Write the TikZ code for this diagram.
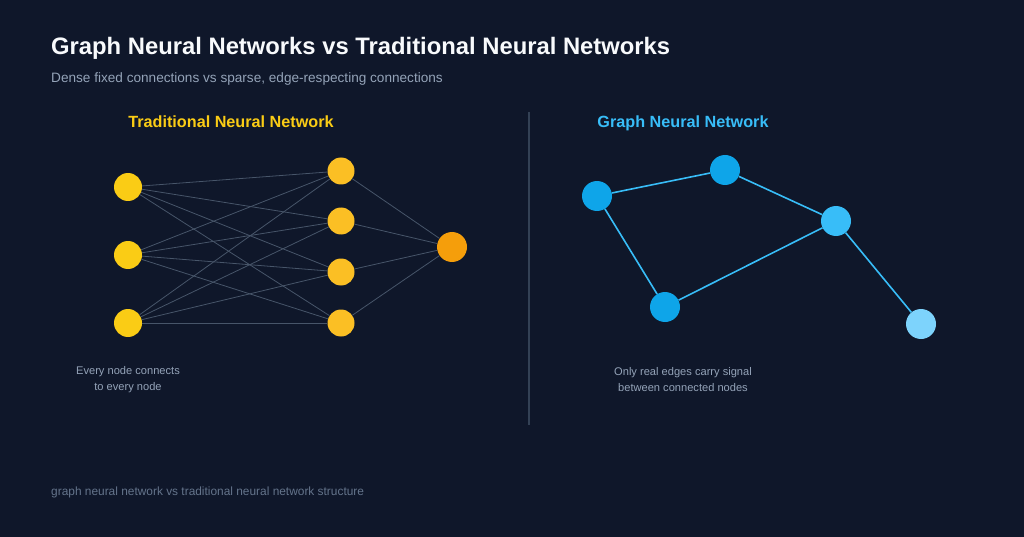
\documentclass[tikz,border=0pt]{standalone}
\usepackage{fontspec}
\setmainfont{Liberation Sans}
\definecolor{bg}{HTML}{0F172A}
\definecolor{ink}{HTML}{F8FAFC}
\definecolor{sub}{HTML}{94A3B8}
\definecolor{foot}{HTML}{64748B}
\definecolor{divc}{HTML}{334155}
\definecolor{linkc}{HTML}{475569}
\definecolor{ylw}{HTML}{FACC15}
\definecolor{amb}{HTML}{FBBF24}
\definecolor{org}{HTML}{F59E0B}
\definecolor{sky}{HTML}{0EA5E9}
\definecolor{skyb}{HTML}{38BDF8}
\definecolor{skyc}{HTML}{7DD3FC}
\begin{document}
\begin{tikzpicture}[x=1pt,y=-1pt,
  neuron/.style={circle,inner sep=0pt,minimum size=28pt},
  gnode/.style={circle,inner sep=0pt,minimum size=30pt},
  dense/.style={draw=linkc,line width=0.8pt},
  gedge/.style={draw=skyb,line width=1.6pt},
  captiontext/.style={text=sub,font=\fontsize{11.1}{16}\selectfont,align=center},
  head/.style={font=\bfseries\fontsize{16.2}{19}\selectfont}]
\fill[bg] (0,0) rectangle (1024,537);
\useasboundingbox (0,0) rectangle (1024,537);
% titles
\node[anchor=base west,text=ink,font=\bfseries\fontsize{23.8}{28}\selectfont,inner sep=0pt] (title) at (51,55) {Graph Neural Networks vs Traditional Neural Networks};
\node[anchor=base west,text=sub,font=\fontsize{13.6}{16}\selectfont,inner sep=0pt] (subtitle) at (51,83) {Dense fixed connections vs sparse, edge-respecting connections};
\node[head,text=ylw,anchor=base] (lh) at (231,128) {Traditional Neural Network};
\node[head,text=skyb,anchor=base] (rh) at (683,128) {Graph Neural Network};
% divider
\coordinate (d1) at (529,112);
\coordinate (d2) at (529,425);
\draw[divc,line width=1.2pt] (d1) -- (d2);
% left network
\node[neuron,fill=ylw] (i1) at (128,187) {};
\node[neuron,fill=ylw] (i2) at (128,255) {};
\node[neuron,fill=ylw] (i3) at (128,323) {};
\node[neuron,fill=amb,minimum size=27pt] (h1) at (341,171) {};
\node[neuron,fill=amb,minimum size=27pt] (h2) at (341,221) {};
\node[neuron,fill=amb,minimum size=27pt] (h3) at (341,272) {};
\node[neuron,fill=amb,minimum size=27pt] (h4) at (341,323) {};
\node[neuron,fill=org,minimum size=30pt] (o) at (452,247) {};
\foreach \i in {i1,i2,i3}{\foreach \h in {h1,h2,h3,h4}{\draw[dense] (\i) -- (\h);}}
\foreach \h in {h1,h2,h3,h4}{\draw[dense] (\h) -- (o);}
% right graph
\node[gnode,fill=sky] (a) at (597,196) {};
\node[gnode,fill=sky] (b) at (725,170) {};
\node[gnode,fill=skyb] (c) at (836,221) {};
\node[gnode,fill=sky] (d) at (665,307) {};
\node[gnode,fill=skyc] (e) at (921,324) {};
\draw[gedge] (a) -- (b);
\draw[gedge] (b) -- (c);
\draw[gedge] (a) -- (d);
\draw[gedge] (d) -- (c);
\draw[gedge] (c) -- (e);
% captions
\node[captiontext] (lc) at (128,380) {Every node connects\\to every node};
\node[captiontext] (rc) at (683,380) {Only real edges carry signal\\between connected nodes};
\node[anchor=base west,text=foot,font=\fontsize{11.9}{14}\selectfont,inner sep=0pt] (ft) at (51,495) {graph neural network vs traditional neural network structure};
\end{tikzpicture}
\end{document}
